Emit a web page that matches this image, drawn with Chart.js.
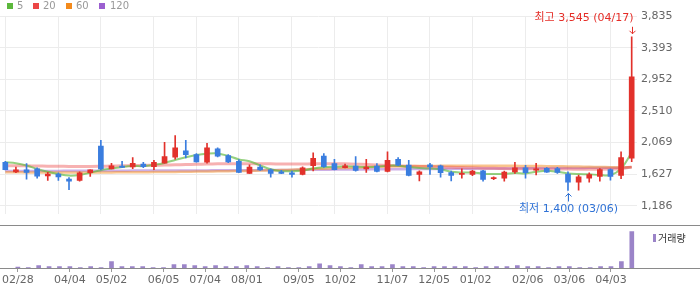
<!DOCTYPE html>
<html><head><meta charset="utf-8">
<script src="https://cdn.jsdelivr.net/npm/chart.js@4.4.1/dist/chart.umd.min.js"></script>
<style>
body{margin:0;background:#fff;width:700px;height:289px;overflow:hidden;position:relative;font-family:"DejaVu Sans","Noto Sans CJK KR",sans-serif}
canvas{position:absolute;left:0}
#main{top:0}
#vol{top:226px}
.hl{position:absolute;left:0;width:700px;height:1px;background:#8a8a8a}
.lg{position:absolute;top:0;font-size:10px;line-height:12px;color:#999}
.sq{position:absolute;top:3px;width:6px;height:6px}
#vlg{position:absolute;left:658px;top:231px;font-size:10px;line-height:13px;color:#333;font-family:"Noto Sans CJK KR",sans-serif}
#vsq{position:absolute;left:653px;top:234px;width:3px;height:8px;background:#9b84c8}
</style></head><body>
<canvas id="main" width="700" height="225"></canvas>
<canvas id="vol" width="700" height="63"></canvas>
<div class="hl" style="top:225px"></div>
<div class="hl" style="top:268px"></div>
<div class="sq" style="left:7px;background:#5cb83c"></div><div class="lg" style="left:17px">5</div>
<div class="sq" style="left:33px;background:#ec4646"></div><div class="lg" style="left:43px">20</div>
<div class="sq" style="left:66px;background:#f38a1c"></div><div class="lg" style="left:76px">60</div>
<div class="sq" style="left:99px;background:#9b5fd0"></div><div class="lg" style="left:110px">120</div>
<div id="vsq"></div><div id="vlg">거래량</div>
<script>
const dates = ["02/28","03/07","03/14","03/21","03/28","04/04","04/11","04/18","04/25","05/02",
"05/09","05/16","05/23","05/30","06/05","06/13","06/20","06/27","07/04","07/11",
"07/18","07/25","08/01","08/08","08/15","08/22","08/29","09/05","09/12","09/19",
"09/26","10/02","10/10","10/17","10/24","10/31","11/07","11/14","11/21","11/28",
"12/05","12/12","12/19","12/26","01/02","01/09","01/16","01/23","01/30","02/06",
"02/13","02/20","02/27","03/06","03/13","03/20","03/27","04/03","04/10","04/17"];
const shownLabels = ["02/28","04/04","05/02","06/05","07/04","08/01","09/05","10/02","11/07","12/05","01/02","02/06","03/06","04/03"];
const yTicks = [1186,1627,2069,2510,2952,3393,3835];

const opens  = [1794,1661,1688,1701,1604,1630,1559,1542,1648,2020, 1701,1741,1728,1768,1732,1781,1865,1954,1901,1794,
                1980,1887,1808,1639,1728,1688,1661,1648,1626,1746, 1879,1777,1719,1741,1701,1741,1666,1834,1754,1626,
                1759,1746,1652,1626,1626,1675,1564,1573,1661,1715, 1683,1710,1705,1630,1518,1572,1595,1692,1612,1851];
const highs  = [1808,1728,1777,1715,1653,1648,1582,1661,1690,2100, 1781,1808,1861,1794,1821,2073,2166,2100,1914,2060,
                1994,1901,1830,1759,1759,1701,1683,1670,1732,1927, 1914,1834,1768,1874,1834,1777,1941,1861,1821,1675,
                1781,1754,1670,1701,1683,1683,1590,1670,1794,1750, 1781,1719,1723,1661,1617,1648,1706,1701,1940,3545];
const lows   = [1686,1648,1559,1573,1542,1542,1412,1529,1595,1688, 1701,1723,1706,1719,1692,1781,1839,1856,1794,1781,
                1870,1790,1648,1639,1679,1586,1635,1586,1617,1675, 1723,1688,1715,1670,1652,1661,1661,1746,1604,1533,
                1626,1586,1533,1573,1608,1529,1551,1529,1639,1573, 1617,1652,1640,1400,1405,1518,1529,1546,1564,1803];
const closes = [1692,1688,1652,1599,1630,1590,1529,1648,1688,1701, 1746,1723,1781,1732,1794,1874,1994,1901,1799,1994,
                1879,1799,1653,1728,1688,1639,1639,1626,1715,1848, 1732,1692,1746,1679,1728,1666,1821,1754,1612,1661,
                1728,1648,1612,1635,1670,1555,1582,1657,1715,1648, 1701,1657,1651,1518,1590,1621,1692,1595,1860,2988];

const ma5   = [1794,1781,1750,1701,1661,1630,1608,1617,1648,1684, 1706,1728,1741,1741,1759,1785,1825,1865,1896,1914,
               1918,1883,1834,1808,1750,1697,1670,1670,1679,1706, 1723,1732,1737,1732,1728,1732,1746,1746,1728,1715,
               1706,1697,1661,1652,1652,1635,1630,1630,1644,1639, 1661,1675,1661,1639,1630,1626,1617,1617,1706,1930];
const ma20  = [1745,1745,1744,1742,1740,1738,1736,1735,1735,1738, 1742,1745,1748,1750,1752,1755,1758,1762,1766,1770,
               1772,1774,1775,1774,1773,1772,1771,1770,1770,1772, 1773,1774,1772,1768,1762,1756,1750,1745,1740,1736,
               1732,1728,1724,1720,1716,1712,1709,1706,1704,1703, 1702,1701,1700,1699,1698,1697,1697,1699,1705,1730];
const ma60  = [1655,1654,1653,1652,1651,1650,1650,1650,1651,1652, 1653,1654,1655,1656,1657,1658,1660,1662,1664,1666,
               1668,1670,1672,1675,1678,1682,1686,1690,1695,1700, 1705,1710,1715,1720,1725,1730,1735,1738,1740,1742,
               1743,1744,1745,1745,1746,1746,1746,1745,1744,1743, 1742,1740,1738,1736,1734,1731,1728,1725,1722,1725];
const ma120 = [1672,1672,1673,1673,1674,1674,1675,1675,1676,1676, 1677,1677,1678,1678,1679,1679,1680,1680,1681,1681,
               1682,1682,1683,1684,1685,1686,1687,1688,1689,1690, 1691,1692,1693,1694,1695,1696,1697,1698,1699,1700,
               1701,1702,1703,1704,1705,1706,1707,1708,1709,1710, 1711,1712,1713,1714,1715,1716,1717,1718,1720,1724];
const volume = [2.4,0.8,5.5,3.2,3.2,3.2,0.8,3.2,0.8,15, 3.2,3.2,3.2,0.8,0.8,8,8,5.5,3.2,5.5,
                3.2,3.2,5.5,3.2,0.8,3.2,0.8,0.8,3.2,10, 5.5,3.2,0.8,8,3.2,3.2,8,3.2,3.2,0.8,
                3.2,3.2,3.2,3.2,0.8,3.2,3.2,3.2,5.5,3.2, 3.2,0.8,3.2,3.2,0.8,0.8,3.2,3.2,15,87];

const RED = '#e2312b', BLUE = '#3a7ddf';
const candleColors = opens.map((o,i)=> closes[i] >= o ? RED : BLUE);
const shown = new Set(shownLabels.map(l => dates.indexOf(l)));
const FONT = '"DejaVu Sans","Noto Sans CJK KR",sans-serif';

const annot = {
  id: 'annot',
  afterDatasetsDraw(chart) {
    const {ctx, scales:{x, y}} = chart;
    let hi = 0, lo = 0;
    highs.forEach((v,i)=>{ if (v > highs[hi]) hi = i; });
    lows.forEach((v,i)=>{ if (v < lows[lo]) lo = i; });
    ctx.save();
    ctx.font = '11px ' + FONT;
    ctx.lineWidth = 1;
    let px = Math.round(x.getPixelForValue(hi)) + 0.5, py = y.getPixelForValue(highs[hi]);
    ctx.strokeStyle = ctx.fillStyle = '#e52d27';
    ctx.beginPath(); ctx.moveTo(px, py-10); ctx.lineTo(px, py-3);
    ctx.moveTo(px-3, py-6); ctx.lineTo(px, py-3); ctx.lineTo(px+3, py-6); ctx.stroke();
    ctx.textAlign = 'right'; ctx.textBaseline = 'middle';
    ctx.fillText('최고 ' + highs[hi].toLocaleString('en-US') + ' (' + dates[hi] + ')', px + 1, py - 19);
    px = Math.round(x.getPixelForValue(lo)) + 0.5; py = y.getPixelForValue(lows[lo]);
    ctx.strokeStyle = ctx.fillStyle = '#2f72d6';
    ctx.beginPath(); ctx.moveTo(px, py+11); ctx.lineTo(px, py+3);
    ctx.moveTo(px-3, py+6); ctx.lineTo(px, py+3); ctx.lineTo(px+3, py+6); ctx.stroke();
    ctx.textAlign = 'center';
    ctx.fillText('최저 ' + lows[lo].toLocaleString('en-US') + ' (' + dates[lo] + ')', px, py + 19);
    ctx.restore();
  }
};

function mkLine(data, color, w){ return {type:'line', data, borderColor:color, borderWidth:w, pointRadius:0, tension:0.35, fill:false}; }

new Chart(document.getElementById('main'), {
  type: 'bar',
  data: {
    labels: dates,
    datasets: [
      {data: opens.map((o,i)=>[o, closes[i]]), backgroundColor: candleColors, barThickness:5, grouped:false, minBarLength:1},
      {data: lows.map((l,i)=>[l, highs[i]]), backgroundColor: candleColors, barThickness:1, grouped:false},
      mkLine(ma5, 'rgba(92,184,60,0.65)', 2),
      mkLine(ma20, 'rgba(236,70,70,0.42)', 3),
      mkLine(ma60, 'rgba(243,138,28,0.5)', 2.5),
      mkLine(ma120, 'rgba(155,95,208,0.5)', 2.5)
    ]
  },
  options: {
    responsive:false, animation:false, devicePixelRatio:1,
    layout:{padding:{top:16,left:0,right:0,bottom:0}},
    plugins:{legend:{display:false}, tooltip:{enabled:false}},
    scales:{
      x:{offset:true, ticks:{display:false, autoSkip:false},
         grid:{offset:false, drawTicks:false, color:(c)=> shown.has(c.index) ? '#ececec' : 'rgba(0,0,0,0)'},
         border:{display:false}, afterFit(s){ s.height = 0; }},
      y:{position:'right', min:1066.8, max:3835,
         afterBuildTicks(s){ s.ticks = yTicks.map(v=>({value:v})); },
         ticks:{padding:4, color:'#666', font:{size:11, family:FONT}, callback:(v)=> Number(v).toLocaleString('en-US')},
         grid:{drawTicks:false, color:'#ececec'}, border:{display:false},
         afterFit(s){ s.width = 63; }}
    }
  },
  plugins:[annot]
});

new Chart(document.getElementById('vol'), {
  type:'bar',
  data:{labels:dates, datasets:[{data:volume, backgroundColor:'#9b84c8', barThickness:4}]},
  options:{
    responsive:false, animation:false, devicePixelRatio:1,
    layout:{padding:{top:0,left:0,right:63,bottom:0}},
    plugins:{legend:{display:false}, tooltip:{enabled:false}},
    scales:{
      x:{offset:true,
         ticks:{autoSkip:false, maxRotation:0, padding:2, color:'#666', font:{size:11, family:FONT},
                callback:(v,i)=> shown.has(i) ? dates[i] : ''},
         grid:{offset:false, drawOnChartArea:false, drawTicks:true, tickLength:4,
               tickColor:(c)=> shown.has(c.index) ? '#999' : 'rgba(0,0,0,0)'},
         border:{display:false}, afterFit(s){ s.height = 21; }},
      y:{display:false, min:0, max:100}
    }
  }
});
</script>
</body></html>
